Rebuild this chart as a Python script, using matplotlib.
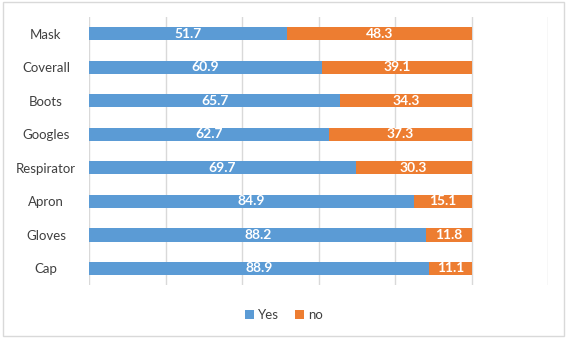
import matplotlib
matplotlib.use("Agg")
import matplotlib.pyplot as plt
from matplotlib.patches import Rectangle

categories = ["Mask", "Coverall", "Boots", "Googles", "Respirator", "Apron", "Gloves", "Cap"]
yes = [51.7, 60.9, 65.7, 62.7, 69.7, 84.9, 88.2, 88.9]
no = [48.3, 39.1, 34.3, 37.3, 30.3, 15.1, 11.8, 11.1]

blue = "#5B9BD5"
orange = "#ED7D31"

plt.rcParams['font.family'] = ['Lato', 'DejaVu Sans']

fig = plt.figure(figsize=(5.67, 3.39), dpi=100)
ax = fig.add_axes([0.157, 0.159, 0.8095, 0.791])

pos = list(range(len(categories)))
b1 = ax.barh(pos, yes, height=0.4, color=blue, label="Yes", zorder=2)
b2 = ax.barh(pos, no, left=yes, height=0.4, color=orange, label="no", zorder=2)
ax.bar_label(b1, labels=[f"{v:.1f}" for v in yes], label_type="center",
             color="white", fontsize=10, fontweight="bold")
ax.bar_label(b2, labels=[f"{v:.1f}" for v in no], label_type="center",
             color="white", fontsize=10, fontweight="bold")

ax.set_xlim(0, 120)
ax.set_ylim(len(categories) - 0.5, -0.5)
ax.set_xticks(range(0, 121, 20))
ax.set_xticklabels([])
ax.set_yticks(pos)
ax.set_yticklabels(categories, fontsize=9.5, color="#404040", ha="center")
ax.tick_params(axis="y", length=0, pad=31)
ax.tick_params(axis="x", length=0)
ax.grid(axis="x", color="#D9D9D9", linewidth=1, zorder=0)
for s in ax.spines.values():
    s.set_visible(False)

fig.legend(loc="center", bbox_to_anchor=(0.5, 0.07), ncol=2, frameon=False,
           fontsize=9.5, handlelength=0.7, handleheight=0.7, handletextpad=0.3,
           columnspacing=1.2, labelcolor="#404040")

fig.patches.append(Rectangle((0.005, 0.008), 0.99, 0.985, transform=fig.transFigure,
                             fill=False, edgecolor="#D9D9D9", linewidth=1))

fig.savefig("out.png", dpi=100)
